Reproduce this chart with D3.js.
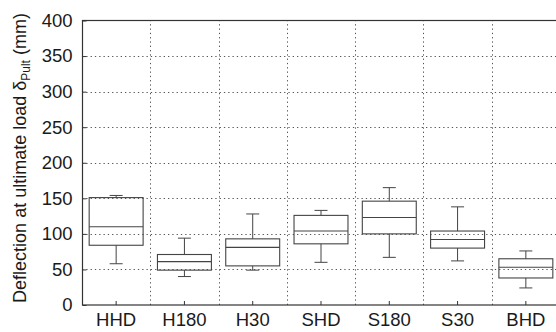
<!DOCTYPE html>
<html>
<head>
<meta charset="utf-8">
<script src="https://cdn.jsdelivr.net/npm/d3@7"></script>
<style>
  body { margin: 0; background: #fff; }
  svg { display: block; font-family: "Liberation Sans", Arial, sans-serif; }
</style>
</head>
<body>
<div id="vis"></div>
<script>
var width = 556;
var height = 332;

// box statistics (mm)
var groups = ["HHD", "H180", "H30", "SHD", "S180", "S30", "BHD"];
var whiskerLow = [58, 40, 49, 60, 67, 62, 24];
var q1 = [84, 49, 55, 86, 100, 80, 38];
var medians = [110, 61, 81, 104, 123, 92, 53];
var q3 = [151, 71, 93, 126, 146, 104, 65];
var whiskerHigh = [154, 94, 128, 133, 165, 138, 76];
var yTicks = [0, 50, 100, 150, 200, 250, 300, 350, 400];

var margin = { left: 82, top: 20.5, right: -4, bottom: 27 };

var svg = d3.select('#vis')
    .append('svg')
    .attr('width', width)
    .attr('height', height);

var x = d3.scaleBand()
    .domain(groups)
    .range([margin.left, width - margin.right])
    .padding(0);

var y = d3.scaleLinear()
    .domain([0, 400])
    .range([height - margin.bottom, margin.top]);

var gridColor = '#555';
var textColor = '#1a1a1a';

// horizontal grid
svg.append('g')
    .selectAll('line')
    .data(yTicks.slice(1, -1))
    .enter().append('line')
    .attr('x1', margin.left)
    .attr('x2', width - margin.right)
    .attr('y1', function (d) { return Math.round(y(d)) + 0.5; })
    .attr('y2', function (d) { return Math.round(y(d)) + 0.5; })
    .attr('stroke', gridColor)
    .attr('stroke-width', 1)
    .attr('stroke-dasharray', '1.3,3');

// vertical grid between groups
svg.append('g')
    .selectAll('line')
    .data(groups.slice(1))
    .enter().append('line')
    .attr('x1', function (d) { return Math.round(x(d)) + 0.5; })
    .attr('x2', function (d) { return Math.round(x(d)) + 0.5; })
    .attr('y1', y(0))
    .attr('y2', y(400))
    .attr('stroke', gridColor)
    .attr('stroke-width', 1)
    .attr('stroke-dasharray', '1.3,3');

// frame
svg.append('rect')
    .attr('x', margin.left + 0.5)
    .attr('y', y(400))
    .attr('width', width - margin.right - margin.left)
    .attr('height', y(0) - y(400))
    .attr('fill', 'none')
    .attr('stroke', '#333')
    .attr('stroke-width', 1.2);

// y axis
var yAxis = d3.axisLeft(y)
    .tickValues(yTicks)
    .tickSizeInner(-4)
    .tickSizeOuter(0)
    .tickPadding(10);

svg.append('g')
    .attr('transform', 'translate(' + (margin.left + 0.5) + ',0)')
    .call(yAxis)
    .call(function (g) {
        g.select('.domain').remove();
        g.selectAll('.tick line').attr('stroke', '#333');
        g.selectAll('.tick text')
            .attr('font-size', 18.5)
            .attr('fill', textColor);
    });

// x axis
var xAxis = d3.axisBottom(x)
    .tickSizeInner(-4)
    .tickSizeOuter(0)
    .tickPadding(8);

svg.append('g')
    .attr('transform', 'translate(0,' + y(0) + ')')
    .call(xAxis)
    .call(function (g) {
        g.select('.domain').remove();
        g.selectAll('.tick line').attr('stroke', '#333');
        g.selectAll('.tick text')
            .attr('font-size', 18.5)
            .attr('fill', textColor);
    });

// boxes
var boxWidth = x.bandwidth() * 0.79;
var capWidth = 13;
var boxColor = '#444';

var boxes = svg.append('g')
    .selectAll('g')
    .data(groups)
    .enter().append('g')
    .attr('transform', function (d) { return 'translate(' + (x(d) + x.bandwidth() / 2) + ',0)'; });

// whiskers
boxes.append('line')
    .attr('x1', 0).attr('x2', 0)
    .attr('y1', function (d, i) { return y(q3[i]); })
    .attr('y2', function (d, i) { return y(whiskerHigh[i]); })
    .attr('stroke', boxColor);

boxes.append('line')
    .attr('x1', 0).attr('x2', 0)
    .attr('y1', function (d, i) { return y(q1[i]); })
    .attr('y2', function (d, i) { return y(whiskerLow[i]); })
    .attr('stroke', boxColor);

boxes.append('line')
    .attr('x1', -capWidth / 2).attr('x2', capWidth / 2)
    .attr('y1', function (d, i) { return y(whiskerHigh[i]); })
    .attr('y2', function (d, i) { return y(whiskerHigh[i]); })
    .attr('stroke', boxColor);

boxes.append('line')
    .attr('x1', -capWidth / 2).attr('x2', capWidth / 2)
    .attr('y1', function (d, i) { return y(whiskerLow[i]); })
    .attr('y2', function (d, i) { return y(whiskerLow[i]); })
    .attr('stroke', boxColor);

boxes.append('rect')
    .attr('x', -boxWidth / 2)
    .attr('width', boxWidth)
    .attr('y', function (d, i) { return y(q3[i]); })
    .attr('height', function (d, i) { return y(q1[i]) - y(q3[i]); })
    .attr('fill', 'none')
    .attr('stroke', boxColor)
    .attr('stroke-width', 1.1);

boxes.append('line')
    .attr('x1', -boxWidth / 2).attr('x2', boxWidth / 2)
    .attr('y1', function (d, i) { return y(medians[i]); })
    .attr('y2', function (d, i) { return y(medians[i]); })
    .attr('stroke', boxColor)
    .attr('stroke-width', 1.1);

// y axis title
var title = svg.append('text')
    .attr('transform', 'translate(25.5,' + 158 + ') rotate(-90)')
    .attr('text-anchor', 'middle')
    .attr('font-size', 18)
    .attr('fill', textColor);

title.append('tspan').text('Deflection at ultimate load \u03b4');
title.append('tspan')
    .attr('font-size', 12)
    .attr('dy', 4)
    .text('Pult');
title.append('tspan')
    .attr('dy', -4)
    .text(' (mm)');
</script>
</body>
</html>
